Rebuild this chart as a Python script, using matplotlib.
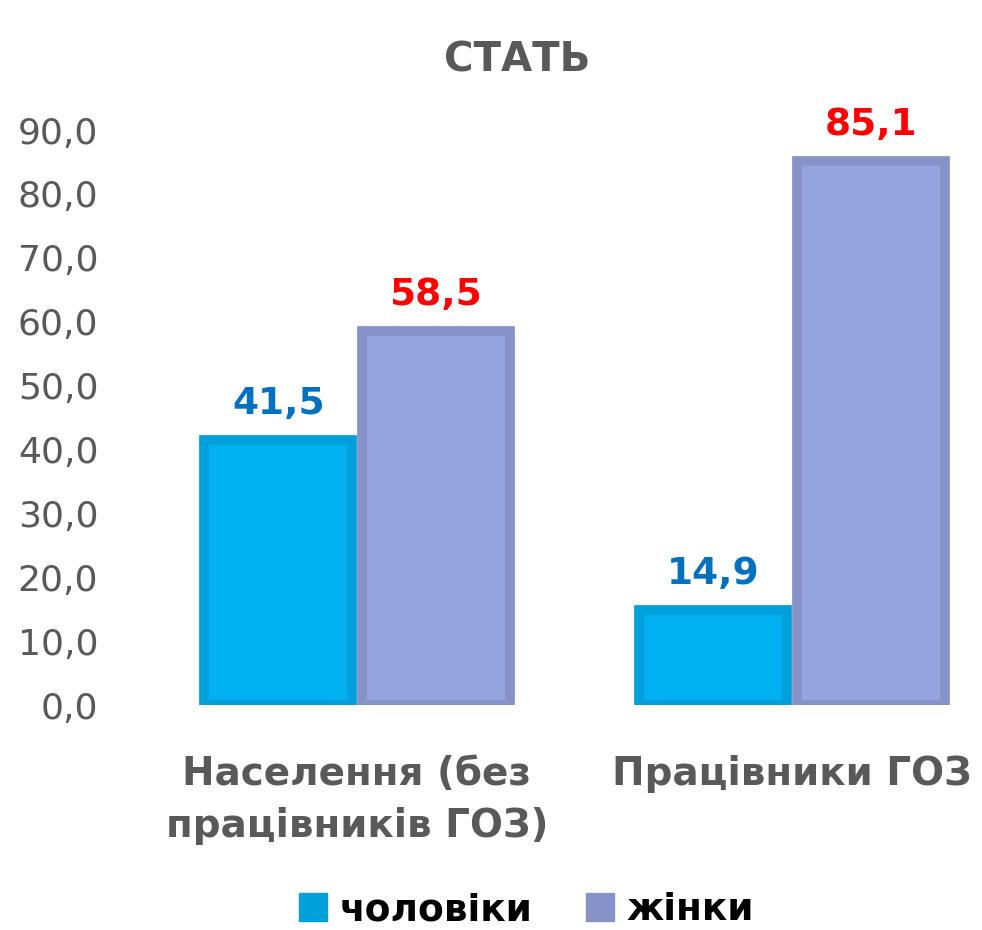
import matplotlib.pyplot as plt
import numpy as np
from matplotlib.lines import Line2D

plt.rcParams['font.family'] = ['DejaVu Sans']

# Data
categories = ["Населення (без\nпрацівників ГОЗ)", "Працівники ГОЗ"]
men = [41.5, 14.9]
women = [58.5, 85.1]
series_names = ["чоловіки", "жінки"]
y_ticks = [0, 10, 20, 30, 40, 50, 60, 70, 80, 90]

men_fill, men_edge = '#00B0F0', '#00A0DA'
women_fill, women_edge = '#95A3DE', '#8792C8'
grey = '#595959'

fig = plt.figure(figsize=(9.82, 9.30), dpi=100)
W, H = 982, 930
ax = fig.add_axes([115 / W, (H - 705) / H, (W - 115) / W, (705 - 130) / H])

x = np.arange(len(categories))
bw = 0.34
off = 0.181
ax.bar(x - off, men, bw, color=men_fill, edgecolor=men_edge, linewidth=7)
ax.bar(x + off, women, bw, color=women_fill, edgecolor=women_edge, linewidth=7)

for xi, v in zip(x - off, men):
    ax.text(xi, v + 2.8, f"{v:.1f}".replace('.', ','), ha='center', va='bottom',
            fontsize=27, fontweight='bold', color='#0070C0')
for xi, v in zip(x + off, women):
    ax.text(xi, v + 2.8, f"{v:.1f}".replace('.', ','), ha='center', va='bottom',
            fontsize=27, fontweight='bold', color='#FF0000')

ax.set_ylim(0, 90)
ax.set_xlim((115 - 357) / 435, (982 - 357) / 435)
ax.set_yticks(y_ticks)
ax.set_yticklabels([f"{t:.1f}".replace('.', ',') for t in y_ticks], fontsize=26, color=grey)
ax.set_xticks(x)
ax.set_xticklabels(categories, fontsize=28, fontweight='bold', color=grey, linespacing=1.45)
ax.tick_params(axis='y', length=0, pad=12)
ax.tick_params(axis='x', length=0, pad=36)
for s in ax.spines.values():
    s.set_visible(False)

fig.text(517 / W, 1 - 60 / H, "СТАТЬ", ha='center', va='center',
         fontsize=29, fontweight='bold', color=grey)

handles = [Line2D([], [], linestyle='none', marker='s', markersize=20,
                  markerfacecolor=men_edge, markeredgecolor=men_edge),
           Line2D([], [], linestyle='none', marker='s', markersize=20,
                  markerfacecolor=women_edge, markeredgecolor=women_edge)]
leg = fig.legend(handles, series_names, loc='center', bbox_to_anchor=(524 / W, 1 - 910 / H),
                 ncol=2, frameon=False, prop={'size': 27, 'weight': 'bold'},
                 handletextpad=0.2, columnspacing=1.3, handlelength=1.0)

fig.savefig('out.png', dpi=100)
